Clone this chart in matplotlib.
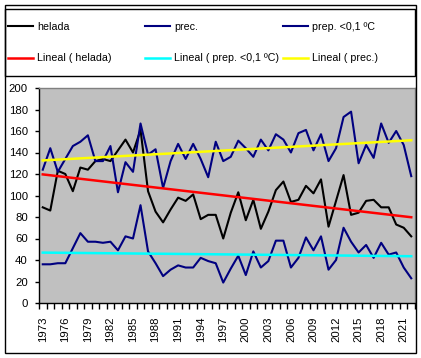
import numpy as np
import matplotlib
matplotlib.use("Agg")
import matplotlib.pyplot as plt
from matplotlib.lines import Line2D
from matplotlib.patches import Rectangle

plt.rcParams['font.family'] = ['Liberation Sans', 'DejaVu Sans']

years = list(range(1973, 2023))
helada = [89, 86, 123, 120, 104, 126, 124, 132, 134, 132,
          142, 152, 140, 161, 104, 85, 75, 87, 98, 95,
          101, 78, 82, 82, 60, 84, 103, 77, 96, 69,
          85, 105, 113, 94, 96, 109, 102, 115, 71, 95,
          119, 82, 84, 95, 96, 89, 89, 73, 70, 62]
prec = [124, 144, 122, 134, 146, 150, 156, 132, 132, 146,
        103, 131, 122, 167, 138, 143, 107, 132, 148, 134,
        148, 134, 117, 150, 132, 136, 151, 144, 136, 152,
        142, 157, 152, 140, 158, 161, 142, 157, 132, 144,
        173, 178, 130, 147, 135, 167, 149, 160, 147, 118]
prep01 = [36, 36, 37, 37, 51, 65, 57, 57, 56, 57,
          49, 62, 60, 91, 48, 37, 25, 31, 35, 33,
          33, 42, 39, 37, 19, 32, 44, 26, 48, 33,
          39, 58, 58, 33, 42, 61, 49, 62, 31, 40,
          70, 57, 47, 54, 42, 56, 45, 47, 33, 23]
yticks = list(range(0, 201, 20))

W, H = 421, 358
fig = plt.figure(figsize=(W / 100, H / 100), dpi=100)

ax = fig.add_axes([39 / W, 55 / H, 376 / W, 215 / H])
ax.set_facecolor('#C0C0C0')
x = np.arange(len(years))

navy = '#000080'
l_hel, = ax.plot(x, helada, color='black', lw=1.5, label='helada')
l_prec, = ax.plot(x, prec, color=navy, lw=1.5, label='prec.')
l_prep, = ax.plot(x, prep01, color=navy, lw=1.5, label='prep. <0,1 ºC')

def trend(vals):
    c = np.polyfit(x, vals, 1)
    return np.polyval(c, x)

t_hel, = ax.plot(x, trend(helada), color='#FF0000', lw=1.8, label='Lineal ( helada)')
t_prep, = ax.plot(x, trend(prep01), color='#00FFFF', lw=1.8, label='Lineal ( prep. <0,1 ºC)')
t_prec, = ax.plot(x, trend(prec), color='#FFFF00', lw=1.8, label='Lineal ( prec.)')

ax.set_xlim(-0.5, len(years) - 0.5)
ax.set_ylim(0, 200)
ax.set_yticks(yticks)
ax.set_yticklabels([str(v) for v in yticks], fontsize=8.2)
ax.tick_params(axis='y', direction='out', length=3, width=1, pad=5, color='black')

ax.set_xticks(np.arange(-0.5, len(years), 1))
ax.set_xticklabels([])
ax.tick_params(axis='x', which='major', direction='out', length=4, width=1, color='black')
lab_idx = list(range(0, len(years), 3))
ax.set_xticks(lab_idx, minor=True)
ax.set_xticklabels([str(years[i]) for i in lab_idx], minor=True, rotation=90, fontsize=8.2)
ax.tick_params(axis='x', which='minor', length=0, pad=10)

for s in ['top', 'right']:
    ax.spines[s].set_color('#808080')
    ax.spines[s].set_linewidth(1)
for s in ['left', 'bottom']:
    ax.spines[s].set_color('black')
    ax.spines[s].set_linewidth(1)

# legend: three columns
fs = 7.7
cols = [([l_hel, t_hel], 8), ([l_prec, t_prep], 145), ([l_prep, t_prec], 283)]
for hs, xp in cols:
    lg = fig.legend(handles=hs, loc='upper left', bbox_to_anchor=(xp / W, 1 - 21.5 / H),
                    frameon=False, borderpad=0, borderaxespad=0, fontsize=fs,
                    handlelength=2.35, handletextpad=0.35, labelspacing=2.05)

fig.add_artist(Rectangle((5 / W, 1 - 76 / H), 410 / W, 67 / H, transform=fig.transFigure,
                         fill=False, edgecolor='black', lw=1))
fig.add_artist(Rectangle((5 / W, 5 / H), 411 / W, 348 / H, transform=fig.transFigure,
                         fill=False, edgecolor='black', lw=1))

fig.savefig('out.png', dpi=100)
